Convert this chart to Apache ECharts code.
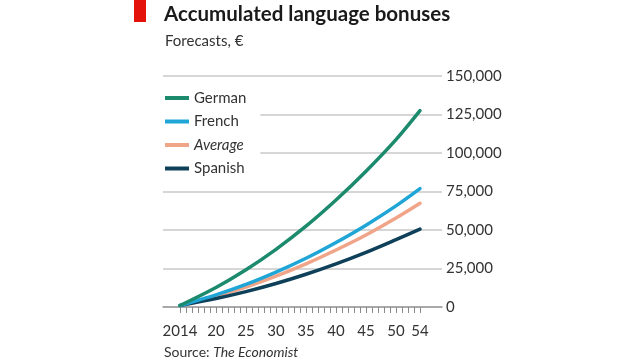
<!DOCTYPE html>
<html>
<head>
<meta charset="utf-8">
<script src="https://cdn.jsdelivr.net/npm/echarts@6/dist/echarts.min.js"></script>
<style>
html,body{margin:0;padding:0;background:#fff;}
#chart{width:640px;height:360px;}
</style>
</head>
<body>
<div id="chart"></div>
<script>
const years = [2014, 2020, 2025, 2030, 2035, 2040, 2045, 2050, 2054];
const german = [1000, 12700, 24200, 37450, 52450, 69450, 88200, 108700, 127500];
const french = [1000, 7900, 14650, 22650, 31650, 41900, 53150, 65650, 76850];
const average = [1000, 7000, 13000, 20000, 28000, 37000, 46750, 57750, 67350];
const spanish = [1000, 5500, 10000, 15250, 21250, 28000, 35500, 43750, 50550];
const xLabelYears = [2014, 2020, 2025, 2030, 2035, 2040, 2045, 2050, 2054];
const yTicks = [0, 25000, 50000, 75000, 100000, 125000, 150000];
const seriesNames = ['German', 'French', 'Average', 'Spanish'];
const seriesColors = ['#1b8a6d', '#1fa5d6', '#f0a488', '#0f4059'];

const tickYears = [];
for (let y = xLabelYears[0]; y <= xLabelYears[xLabelYears.length - 1]; y++) tickYears.push(y);

const FONT = 'Lato';
const pair = (arr) => years.map((y, i) => [y, arr[i]]);
const dataMap = { German: german, French: french, Average: average, Spanish: spanish };

const chart = echarts.init(document.getElementById('chart'), null, { renderer: 'canvas' });

const drawOrder = ['Average', 'Spanish', 'French', 'German'];
const series = drawOrder.map(name => ({
  name: name,
  type: 'line',
  data: pair(dataMap[name]),
  smooth: 0.3,
  showSymbol: false,
  symbol: 'none',
  lineStyle: { width: 3.5, color: seriesColors[seriesNames.indexOf(name)], cap: 'round' },
  itemStyle: { color: seriesColors[seriesNames.indexOf(name)] },
  z: 3
}));

chart.setOption({
  animation: false,
  backgroundColor: '#fff',
  textStyle: { fontFamily: FONT },
  grid: { left: 163, right: 198, top: 76, bottom: 53, containLabel: false },
  xAxis: {
    type: 'value',
    min: 2014 - 17 / 6,
    max: 2054 + 22 / 6,
    splitLine: { show: false },
    axisLine: { show: true, lineStyle: { color: '#9a9a9a', width: 1.5 } },
    axisTick: { show: true, customValues: tickYears, length: 6, lineStyle: { color: '#8a8a8a', width: 1 } },
    axisLabel: {
      customValues: xLabelYears,
      formatter: v => (v === xLabelYears[0] ? String(v) : String(v % 100)),
      fontFamily: FONT, fontSize: 15, color: '#333', margin: 17
    }
  },
  yAxis: {
    type: 'value',
    position: 'right',
    min: 0, max: 150000, interval: 25000,
    axisLine: { show: false },
    axisTick: { show: false },
    splitLine: { show: true, lineStyle: { color: '#c8c8c8', width: 1.5 } },
    axisLabel: {
      formatter: v => v.toLocaleString('en-US'),
      fontFamily: FONT, fontSize: 15, color: '#333', margin: 4
    }
  },
  legend: {
    orient: 'vertical',
    left: 163, top: 85,
    padding: [5, 14, 5, 2],
    backgroundColor: '#fff',
    data: seriesNames,
    icon: 'rect',
    itemWidth: 24, itemHeight: 4,
    itemGap: 7.5,
    formatter: n => (n === 'Average' ? '{i|Average}' : n),
    textStyle: {
      fontFamily: FONT, fontSize: 15, color: '#333', lineHeight: 16,
      rich: { i: { fontStyle: 'italic', fontFamily: FONT, fontSize: 15, color: '#333' } }
    }
  },
  graphic: [
    { type: 'rect', left: 134, top: 0, shape: { width: 12, height: 22 }, style: { fill: '#e3120b' } },
    { type: 'text', left: 164, top: 4, style: { text: 'Accumulated language bonuses', font: 'bold 20.5px Lato', fill: '#1a1a1a' } },
    { type: 'text', left: 165, top: 34, style: { text: 'Forecasts, €', font: '15px Lato', fill: '#333' } },
    { type: 'text', left: 164, top: 345, style: {
        text: 'Source: {i|The Economist}', font: '14px Lato', fill: '#333',
        rich: { i: { fontStyle: 'italic', fontFamily: FONT, fontSize: 14, fill: '#333' } }
    } }
  ],
  series: series
});
</script>
</body>
</html>
